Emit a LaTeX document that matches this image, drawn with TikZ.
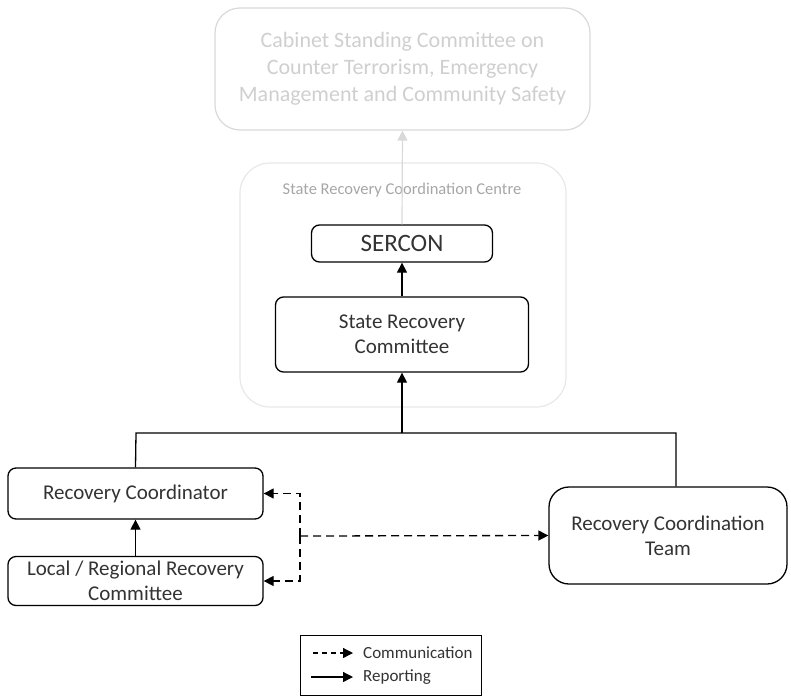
\documentclass[tikz,border=0pt]{standalone}
\usepackage{fontspec}
\setmainfont{Carlito}
\usetikzlibrary{arrows.meta}

\definecolor{fadeline}{HTML}{D9D9D9}
\definecolor{fadetext}{HTML}{CFCFCF}
\definecolor{centreline}{HTML}{E8E8E8}
\definecolor{centretext}{HTML}{A6A6A6}
\definecolor{boxtext}{HTML}{333333}

\tikzset{
    unitbox/.style={draw=black, line width=1.3pt, rounded corners=8pt, align=center, text=boxtext,
        inner sep=0pt, font=\fontsize{21}{25}\selectfont},
    report/.style={line width=1.3pt, -{Triangle[length=10pt,width=10pt]}},
    comm/.style={line width=1.3pt, dash pattern=on 8pt off 5pt, -{Triangle[length=10pt,width=10pt]}},
}

\begin{document}
\begin{tikzpicture}[x=1pt, y=-1pt]
            \useasboundingbox (0,0) rectangle (791,696);

            % outer groups
            \node[draw=fadeline, line width=1.2pt, rounded corners=25pt, minimum width=375pt, minimum height=122pt,
                  text=fadetext, align=center, font=\fontsize{22}{27}\selectfont] (cabinet) at (402.5,69)
                  {Cabinet Standing Committee on\\Counter Terrorism, Emergency\\Management and Community Safety};
            \node[draw=centreline, line width=1.2pt, rounded corners=30pt, minimum width=326pt, minimum height=244pt] (centre) at (403,285) {};
            \node[text=centretext, font=\fontsize{16.5}{20}\selectfont] (centrelabel) at (402,190) {State Recovery Coordination Centre};

            % boxes
            \node[unitbox, minimum width=181pt, minimum height=37pt, font=\fontsize{25}{30}\selectfont] (sercon) at (402,243.5) {SERCON};
            \node[unitbox, minimum width=253pt, minimum height=75pt] (src) at (402,334.5) {State Recovery\\Committee};
            \node[unitbox, minimum width=255pt, minimum height=51pt] (rc) at (135.5,493.5) {Recovery Coordinator};
            \node[unitbox, minimum width=255pt, minimum height=49pt] (lrrc) at (135.5,581) {Local / Regional Recovery\\Committee};
            \node[unitbox, rounded corners=20pt, minimum width=238pt, minimum height=97pt] (rct) at (668,535.5) {Recovery Coordination\\Team};

            % reporting lines
            \coordinate (busL) at (136,433);
            \coordinate (busM) at (402,433);
            \coordinate (busR) at (676,433);
            \draw[line width=1.3pt] (rc.north) -- (busL) -- (busR) -- (busR |- rct.north);
            \draw[report] (busM) -- (src.south);
            \draw[report] (src.north) -- (sercon.south);
            \draw[report] (lrrc.north) -- (rc.south);
            \draw[line width=1.2pt, draw=fadeline, -{Triangle[length=10pt,width=10pt]}] (sercon.north) -- (cabinet.south);

            % communication lines
            \coordinate (split) at (300,536);
            \draw[comm] (split) |- (rc.east);
            \draw[comm] (split) |- (lrrc.east);
            \draw[comm] (split) -- (rct.west);

            % legend
            \draw[line width=1pt] (300,635) rectangle (481,695);
            \coordinate (commA) at (313,653);
            \coordinate (commB) at (353,653);
            \coordinate (repA) at (311,677);
            \coordinate (repB) at (353,677);
            \draw[comm, dash pattern=on 5pt off 4pt] (commA) -- (commB);
            \draw[report] (repA) -- (repB);
            \node[anchor=west, inner sep=0pt, text=boxtext, font=\fontsize{17}{20}\selectfont] (commtext) at (363,653) {Communication};
            \node[anchor=west, inner sep=0pt, text=boxtext, font=\fontsize{17}{20}\selectfont] (reptext) at (363,677) {Reporting};
        \end{tikzpicture}
\end{document}
